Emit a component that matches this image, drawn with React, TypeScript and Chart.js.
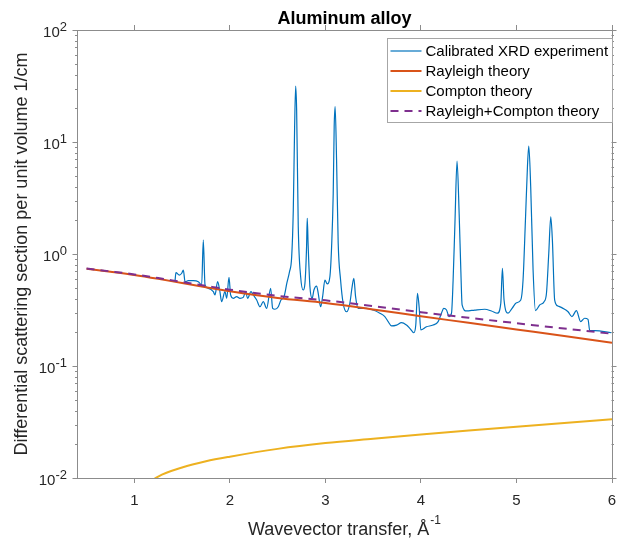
import { useEffect, useRef } from 'react';
import { Chart, registerables } from 'chart.js';

Chart.register(...registerables);

const FONT = '"Liberation Sans", Arial, Helvetica, sans-serif';
const AXIS_COLOR = '#8c8c8c';
const TEXT_COLOR = '#262626';

const TITLE = 'Aluminum alloy';
const X_LABEL = 'Wavevector transfer, Å';
const X_LABEL_SUP = '-1';
const Y_LABEL = 'Differential scattering section per unit volume 1/cm';

const seriesLabels = [
  'Calibrated XRD experiment',
  'Rayleigh theory',
  'Compton theory',
  'Rayleigh+Compton theory',
];
const seriesColors = ['#0072BD', '#D95319', '#EDB120', '#7E2F8E'];

const xTickValues = [1, 2, 3, 4, 5, 6];
const yTickValues = [0.01, 0.1, 1, 10, 100];
const yTickBase = ['10', '10', '10', '10', '10'];
const yTickExponents = ['-2', '-1', '0', '1', '2'];

// Calibrated XRD experiment
const expQ = [
  1.426, 1.436, 1.471, 1.496, 1.513, 1.531, 1.565, 1.617, 1.670, 1.705,
  1.722, 1.740, 1.774, 1.827, 1.844, 1.872, 1.896, 1.914, 1.949, 1.967,
  1.991, 2.008, 2.036, 2.071, 2.106, 2.140, 2.165, 2.186, 2.221, 2.245,
  2.281, 2.315, 2.350, 2.385, 2.427, 2.448, 2.472, 2.507, 2.535, 2.566,
  2.597, 2.624, 2.647, 2.664, 2.678, 2.689, 2.699, 2.716, 2.741, 2.768,
  2.786, 2.803, 2.810, 2.820, 2.838, 2.862, 2.880, 2.908, 2.925, 2.950,
  2.971, 2.995, 3.019, 3.047, 3.065, 3.082, 3.092, 3.102, 3.117, 3.134,
  3.159, 3.186, 3.222, 3.256, 3.280, 3.298, 3.316, 3.343, 3.431, 3.500,
  3.570, 3.622, 3.657, 3.692, 3.745, 3.797, 3.849, 3.884, 3.926, 3.946,
  3.964, 3.981, 3.999, 4.058, 4.127, 4.180, 4.215, 4.239, 4.268, 4.295,
  4.320, 4.337, 4.356, 4.378, 4.400, 4.418, 4.431, 4.477, 4.564, 4.668,
  4.738, 4.801, 4.836, 4.853, 4.870, 4.912, 4.954, 5.000, 5.045, 5.069,
  5.094, 5.115, 5.129, 5.149, 5.174, 5.199, 5.244, 5.289, 5.314, 5.338,
  5.359, 5.376, 5.400, 5.435, 5.487, 5.540, 5.581, 5.627, 5.672, 5.714,
  5.749, 5.767, 5.819, 5.994,
];
const expVal = [
  0.574, 0.681, 0.649, 0.673, 0.720, 0.566, 0.578, 0.578, 0.566, 0.529,
  1.333, 0.529, 0.494, 0.461, 0.431, 0.566, 0.461, 0.375, 0.461, 0.402,
  0.620, 0.431, 0.402, 0.416, 0.402, 0.410, 0.461, 0.402, 0.461, 0.431,
  0.388, 0.338, 0.375, 0.327, 0.494, 0.327, 0.321, 0.338, 0.388, 0.413,
  0.551, 0.691, 0.940, 2.47, 13.7, 31.6, 19.3, 1.75, 0.627, 0.477,
  0.547, 1.16, 2.08, 1.16, 0.511, 0.402, 0.477, 0.518, 0.446, 0.338,
  0.416, 0.586, 0.540, 0.627, 1.16, 3.48, 13.7, 20.7, 6.90, 1.25,
  0.586, 0.363, 0.305, 0.363, 0.511, 0.607, 0.416, 0.327, 0.327, 0.316,
  0.296, 0.276, 0.249, 0.228, 0.232, 0.244, 0.232, 0.217, 0.198, 0.232,
  0.446, 0.338, 0.210, 0.224, 0.232, 0.249, 0.296, 0.327, 0.316, 0.276,
  0.296, 0.586, 1.88, 6.75, 2.3, 0.7, 0.351, 0.310, 0.316, 0.321,
  0.310, 0.296, 0.363, 0.745, 0.388, 0.296, 0.327, 0.367, 0.388, 0.586,
  2.01, 6.02, 9.21, 3.99, 0.720, 0.312, 0.351, 0.375, 0.446, 1.01,
  2.15, 1.33, 0.388, 0.343, 0.327, 0.305, 0.276, 0.312, 0.249, 0.267,
  0.261, 0.207, 0.207, 0.198,
];

// Theory curves
const theoryQ = [0.5, 0.75, 1.0, 1.25, 1.5, 1.75, 2.0, 2.5, 3.0, 3.5, 4.0, 4.5, 5.0, 5.5, 6.0];
const rayleigh = [0.74, 0.695, 0.65, 0.6, 0.55, 0.505, 0.465, 0.405, 0.365, 0.32, 0.278, 0.243, 0.212, 0.185, 0.161];
const compton = [0.0022, 0.0045, 0.0072, 0.0103, 0.0124, 0.0141, 0.0155, 0.0182, 0.0205, 0.0224, 0.0244, 0.0265, 0.0287, 0.031, 0.0334];
const rayleighCompton = [0.742, 0.6995, 0.657, 0.61, 0.562, 0.519, 0.4805, 0.423, 0.3855, 0.342, 0.302, 0.2695, 0.241, 0.216, 0.194];

const toPoints = (xs: number[], ys: number[]) => xs.map((x, i) => ({ x, y: ys[i] }));

const decorPlugin = {
  id: 'matlabDecor',
  afterDraw(chart: any) {
    const ctx = chart.ctx as CanvasRenderingContext2D;
    const { left, right, top } = chart.chartArea;
    const yScale = chart.scales.y;
    const xScale = chart.scales.x;
    ctx.save();

    // y tick marks (major + minor), outward on both sides
    ctx.strokeStyle = AXIS_COLOR;
    ctx.lineWidth = 1;
    for (let d = 0; d < yTickValues.length; d++) {
      const dec = yTickValues[d];
      for (let m = 1; m <= 9; m++) {
        const v = dec * m;
        if (v > yTickValues[yTickValues.length - 1] * 1.0001) break;
        const py = Math.round(yScale.getPixelForValue(v)) + 0.5;
        const len = m === 1 ? 5 : 2.5;
        ctx.beginPath();
        ctx.moveTo(Math.round(left) + 0.5 - len, py);
        ctx.lineTo(Math.round(left) + 0.5, py);
        ctx.moveTo(Math.round(right) - 0.5, py);
        ctx.lineTo(Math.round(right) - 0.5 + len, py);
        ctx.stroke();
      }
    }

    // y tick labels with superscript exponents
    ctx.fillStyle = TEXT_COLOR;
    ctx.textBaseline = 'middle';
    ctx.textAlign = 'right';
    const labelRight = left - 10;
    for (let i = 0; i < yTickValues.length; i++) {
      const py = yScale.getPixelForValue(yTickValues[i]);
      ctx.font = `13px ${FONT}`;
      const ew = ctx.measureText(yTickExponents[i]).width;
      ctx.fillText(yTickExponents[i], labelRight, py - 3);
      ctx.font = `15px ${FONT}`;
      ctx.fillText(yTickBase[i], labelRight - ew, py + 3);
    }

    // x axis title with superscript
    ctx.textAlign = 'left';
    ctx.textBaseline = 'alphabetic';
    ctx.font = `18px ${FONT}`;
    const w1 = ctx.measureText(X_LABEL).width;
    ctx.font = `12px ${FONT}`;
    const w2 = ctx.measureText(X_LABEL_SUP).width;
    const cx = (xScale.left + xScale.right) / 2;
    const sx = cx - (w1 + w2 + 1) / 2;
    ctx.font = `18px ${FONT}`;
    ctx.fillText(X_LABEL, sx, 535);
    ctx.font = `12px ${FONT}`;
    ctx.fillText(X_LABEL_SUP, sx + w1 + 1, 524);

    // legend
    const bw = 225;
    const bh = 84;
    const bx = Math.round(right) - bw + 0.5;
    const by = Math.round(top) + 8.5;
    ctx.fillStyle = '#ffffff';
    ctx.fillRect(bx, by, bw, bh);
    ctx.strokeStyle = '#a6a6a6';
    ctx.lineWidth = 1;
    ctx.strokeRect(bx, by, bw, bh);
    const datasets = chart.data.datasets;
    ctx.font = `15px ${FONT}`;
    ctx.textBaseline = 'middle';
    ctx.textAlign = 'left';
    for (let i = 0; i < datasets.length; i++) {
      const ds = datasets[i];
      const ly = by + 12.5 + i * 20;
      ctx.strokeStyle = ds.borderColor;
      ctx.lineWidth = ds.borderWidth;
      ctx.setLineDash(ds.borderDash || []);
      ctx.beginPath();
      ctx.moveTo(bx + 3, ly);
      ctx.lineTo(bx + 34, ly);
      ctx.stroke();
      ctx.setLineDash([]);
      ctx.fillStyle = '#000000';
      ctx.fillText(ds.label, bx + 38, ly + 0.5);
    }
    ctx.restore();
  },
};

export default function App() {
  const canvasRef = useRef<HTMLCanvasElement | null>(null);

  useEffect(() => {
    if (!canvasRef.current) return;
    const fixedTicks = (s: any) => {
      s.ticks = xTickValues.map((v) => ({ value: v }));
    };
    const fitHorizontal = (h: number) => (s: any) => {
      s.height = h;
      s.paddingLeft = 0;
      s.paddingRight = 0;
      s.paddingTop = 0;
      s.paddingBottom = 0;
    };
    const fitVertical = (w: number) => (s: any) => {
      s.width = w;
      s.paddingLeft = 0;
      s.paddingRight = 0;
      s.paddingTop = 0;
      s.paddingBottom = 0;
    };
    const chart = new Chart(canvasRef.current, {
      type: 'line',
      data: {
        datasets: [
          {
            label: seriesLabels[0],
            data: toPoints(expQ, expVal),
            borderColor: seriesColors[0],
            borderWidth: 1.2,
            pointRadius: 0,
            cubicInterpolationMode: 'monotone',
            order: 4,
            xAxisID: 'x',
            yAxisID: 'y',
          },
          {
            label: seriesLabels[1],
            data: toPoints(theoryQ, rayleigh),
            borderColor: seriesColors[1],
            borderWidth: 2,
            pointRadius: 0,
            cubicInterpolationMode: 'monotone',
            order: 3,
            xAxisID: 'x',
            yAxisID: 'y',
          },
          {
            label: seriesLabels[2],
            data: toPoints(theoryQ, compton),
            borderColor: seriesColors[2],
            borderWidth: 2,
            pointRadius: 0,
            cubicInterpolationMode: 'monotone',
            order: 2,
            xAxisID: 'x',
            yAxisID: 'y',
          },
          {
            label: seriesLabels[3],
            data: toPoints(theoryQ, rayleighCompton),
            borderColor: seriesColors[3],
            borderWidth: 2,
            borderDash: [8, 6],
            pointRadius: 0,
            cubicInterpolationMode: 'monotone',
            order: 1,
            xAxisID: 'x',
            yAxisID: 'y',
          },
        ] as any,
      },
      options: {
        responsive: false,
        animation: false,
        devicePixelRatio: 1,
        layout: { padding: 0, autoPadding: false },
        plugins: {
          legend: { display: false },
          tooltip: { enabled: false },
          title: { display: false },
        },
        scales: {
          x: {
            type: 'linear',
            position: 'bottom',
            min: 0.4,
            max: 6,
            afterBuildTicks: fixedTicks,
            afterFit: fitHorizontal(60),
            ticks: {
              font: { family: FONT, size: 15 },
              color: TEXT_COLOR,
              padding: 9,
              maxRotation: 0,
              autoSkip: false,
              callback: (v: any) => String(v),
            },
            grid: {
              display: true,
              drawOnChartArea: false,
              drawTicks: true,
              tickLength: 5,
              color: AXIS_COLOR,
              tickColor: AXIS_COLOR,
              tickWidth: 1,
            },
            border: { display: true, color: AXIS_COLOR, width: 1 },
          },
          x2: {
            type: 'linear',
            position: 'top',
            min: 0.4,
            max: 6,
            afterBuildTicks: fixedTicks,
            afterFit: fitHorizontal(30),
            ticks: { display: false },
            grid: {
              display: true,
              drawOnChartArea: false,
              drawTicks: true,
              tickLength: 5,
              color: AXIS_COLOR,
              tickColor: AXIS_COLOR,
              tickWidth: 1,
            },
            border: { display: true, color: AXIS_COLOR, width: 1 },
            title: {
              display: true,
              text: TITLE,
              color: '#000000',
              font: { family: FONT, size: 18, weight: 'bold' },
              padding: { top: 8, bottom: 0 },
            },
          },
          y: {
            type: 'logarithmic',
            position: 'left',
            min: 0.01,
            max: 100,
            afterFit: fitVertical(77),
            ticks: { display: false },
            grid: { display: false },
            border: { display: true, color: AXIS_COLOR, width: 1 },
            title: {
              display: true,
              text: Y_LABEL,
              color: TEXT_COLOR,
              font: { family: FONT, size: 18 },
              padding: { top: 11, bottom: 0 },
            },
          },
          y2: {
            type: 'logarithmic',
            position: 'right',
            min: 0.01,
            max: 100,
            afterFit: fitVertical(7),
            ticks: { display: false },
            grid: { display: false },
            border: { display: true, color: AXIS_COLOR, width: 1 },
          },
        },
      } as any,
      plugins: [decorPlugin],
    });
    return () => chart.destroy();
  }, []);

  return (
    <div style={{ position: 'fixed', left: 0, top: 0, width: 619, height: 538, background: '#ffffff' }}>
      <canvas ref={canvasRef} width={619} height={538} style={{ display: 'block' }} />
    </div>
  );
}
